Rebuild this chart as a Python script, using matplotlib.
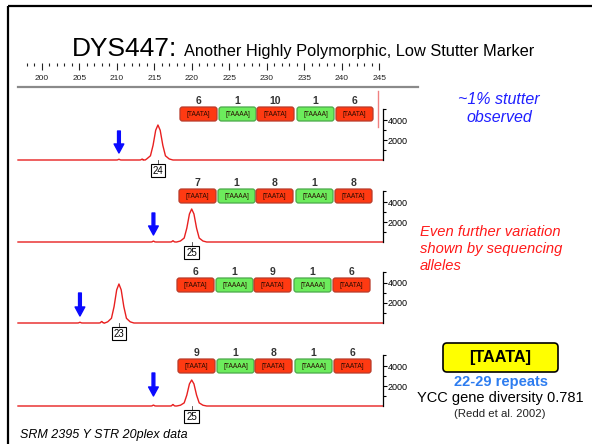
import matplotlib.pyplot as plt
from matplotlib.patches import FancyBboxPatch, Rectangle
from matplotlib.transforms import blended_transform_factory

plt.rcParams['font.family'] = ['Liberation Sans', 'DejaVu Sans']

W, H = 592, 444

# size scale (bp)
scale_minor = list(range(198, 246))
scale_major = [200, 205, 210, 215, 220, 225, 230, 235, 240, 245]

# one trace per sample
allele_calls = ['24', '25', '23', '25']
peak_bp = [215.5, 220.0, 210.3, 220.0]
peak_rfu = [3500, 3300, 3900, 2600]
stutter_bp = [210.3, 214.9, 205.1, 214.9]
stutter_rfu = [70, 90, 70, 90]
extra_bp = [213.4, 217.5, 208.0, 217.5]
extra_rfu = [90, 120, 150, 150]
arrow_tip = [700, 700, 700, 1000]
arrow_tail = [2900, 2900, 3000, 3300]

# peak shape (bp offset, fraction of height)
profile_dx = [-2.0, -1.5, -1.0, -0.65, -0.3, 0.0, 0.3, 0.65, 1.0, 1.5, 2.0]
profile_fr = [0.0, 0.03, 0.12, 0.42, 0.85, 1.0, 0.85, 0.42, 0.12, 0.03, 0.0]

repeat_units = ['[TAATA]', '[TAAAA]', '[TAATA]', '[TAAAA]', '[TAATA]']
repeat_counts = [[6, 1, 10, 1, 6], [7, 1, 8, 1, 8], [6, 1, 9, 1, 6], [9, 1, 8, 1, 6]]

# layout (pixels)
panel_base = [160, 242, 323, 406]
block_y = [114, 196, 285, 366]
block_shift = [0, -1, -3, -2]
block_x = [180, 219, 257, 297, 336]
x_lo, x_hi = 196.84, 245.51

fig = plt.figure(figsize=(W / 100, H / 100), dpi=100)

# overlay in pixel units for slide decorations
ov = fig.add_axes([0, 0, 1, 1])
ov.set_xlim(0, W)
ov.set_ylim(H, 0)
ov.axis('off')
ov.add_patch(Rectangle((8.3, 6), W, H, fill=False, lw=1.6, ec='black'))

fig.text(72 / W, 1 - 56 / H, 'DYS447:', fontsize=19, va='baseline')
fig.text(184 / W, 1 - 56 / H, 'Another Highly Polymorphic, Low Stutter Marker',
         fontsize=11.8, va='baseline')

# size scale
sc = fig.add_axes([18 / W, 1 - 87 / H, 400 / W, 24 / H])
sc.set_xlim(x_lo, x_lo + 400 / 7.5)
sc.set_ylim(0, 1)
for s in ['top', 'left', 'right']:
    sc.spines[s].set_visible(False)
sc.spines['bottom'].set_color('#8a8a8a')
sc.spines['bottom'].set_linewidth(1.6)
sc.set_xticks(scale_major)
sc.set_xticks(scale_minor, minor=True)
sc.set_yticks([])
sc.tick_params(axis='x', which='both', top=True, bottom=False, direction='in',
               labelbottom=False, labeltop=False, width=0.8, color='#222222')
sc.tick_params(axis='x', which='major', length=4.8)
sc.tick_params(axis='x', which='minor', length=2.2)
tr = blended_transform_factory(sc.transData, sc.transAxes)
for v in scale_major:
    sc.text(v, 0.37, str(v), transform=tr, ha='center', va='center',
            fontsize=6, color='#222222')

for i in range(4):
    base = panel_base[i]
    ax = fig.add_axes([18 / W, 1 - base / H, 365 / W, 51 / H])
    ax.set_xlim(x_lo, x_hi)
    ax.set_ylim(0, 5100)
    ax.patch.set_alpha(0)
    for s in ['top', 'left', 'bottom']:
        ax.spines[s].set_visible(False)
    ax.spines['right'].set_linewidth(0.9)
    ax.set_xticks([])
    ax.yaxis.tick_right()
    ax.set_yticks([2000, 4000])
    ax.set_yticklabels(['2000', '4000'])
    ax.set_yticks([1000, 3000, 5100], minor=True)
    ax.tick_params(axis='y', which='major', length=3, width=0.8, pad=0.5, labelsize=6.5)
    ax.tick_params(axis='y', which='minor', length=2, width=0.8)

    pts = [(x_lo, 0), (x_hi, 0)]
    for c, h, k in [(stutter_bp[i], stutter_rfu[i], 0.2), (extra_bp[i], extra_rfu[i], 0.2),
                    (peak_bp[i], peak_rfu[i], 1.0)]:
        pts += [(c + dx * k, h * f) for dx, f in zip(profile_dx, profile_fr)]
    pts.sort()
    ax.plot([p[0] for p in pts], [p[1] for p in pts], color='#e82020', lw=1.0,
            clip_on=False, solid_joinstyle='round')

    ax.annotate('', xy=(stutter_bp[i], arrow_tip[i]), xytext=(stutter_bp[i], arrow_tail[i]),
                arrowprops=dict(width=2.0, headwidth=7, headlength=6.5, color='#0a0aff', shrink=0),
                annotation_clip=False)

    ax.plot([peak_bp[i], peak_bp[i]], [0, -350], color='#444444', lw=0.6, clip_on=False)
    ax.text(peak_bp[i], -1050, allele_calls[i], ha='center', va='center', fontsize=7,
            clip_on=False,
            bbox=dict(boxstyle='square,pad=0.2', fc='white', ec='black', lw=0.8))

    for j, (unit, n) in enumerate(zip(repeat_units, repeat_counts[i])):
        x0 = block_x[j] + block_shift[i]
        y0 = block_y[i] - 7
        red = unit == '[TAATA]'
        ov.add_patch(FancyBboxPatch((x0, y0), 37, 14, boxstyle='round,pad=0,rounding_size=2.5',
                                    fc='#ff3a12' if red else '#6cec5c',
                                    ec='#b83a2a' if red else '#4aa84a', lw=0.9))
        ov.text(x0 + 18.5, block_y[i] + 0.5, unit, ha='center', va='center',
                fontsize=4.8, color='#2a0a00')
        ov.text(x0 + 18.5, block_y[i] - 13, str(n), ha='center', va='center',
                fontsize=7.5, fontweight='bold', color='#333333')

    if i == 0:
        ax.plot([244.9, 244.9], [3300, 6900], color='#f08080', lw=1.0, clip_on=False)

# side notes
ov.text(499, 108.5, '~1% stutter\nobserved', ha='center', va='center', fontsize=11.5,
        style='italic', color='#1f1fff', linespacing=1.27)
ov.text(420, 249, 'Even further variation\nshown by sequencing\nalleles', ha='left',
        va='center', fontsize=10.6, style='italic', color='#ff1a1a', linespacing=1.27)

ov.add_patch(FancyBboxPatch((443, 343), 115, 29, boxstyle='round,pad=0,rounding_size=4',
                            fc='#ffff00', ec='black', lw=1.2))
ov.text(500.5, 357.5, '[TAATA]', ha='center', va='center', fontsize=11.7, fontweight='bold')
ov.text(501, 382, '22-29 repeats', ha='center', va='center', fontsize=10.5,
        fontweight='bold', color='#2e7df0')
ov.text(500, 398, 'YCC gene diversity 0.781', ha='center', va='center', fontsize=10.5)
ov.text(500, 413.5, '(Redd et al. 2002)', ha='center', va='center', fontsize=8.2,
        color='#222222')

ov.text(20, 435, 'SRM 2395 Y STR 20plex data', ha='left', va='center', fontsize=9,
        style='italic')

fig.savefig('out.png', dpi=100)
